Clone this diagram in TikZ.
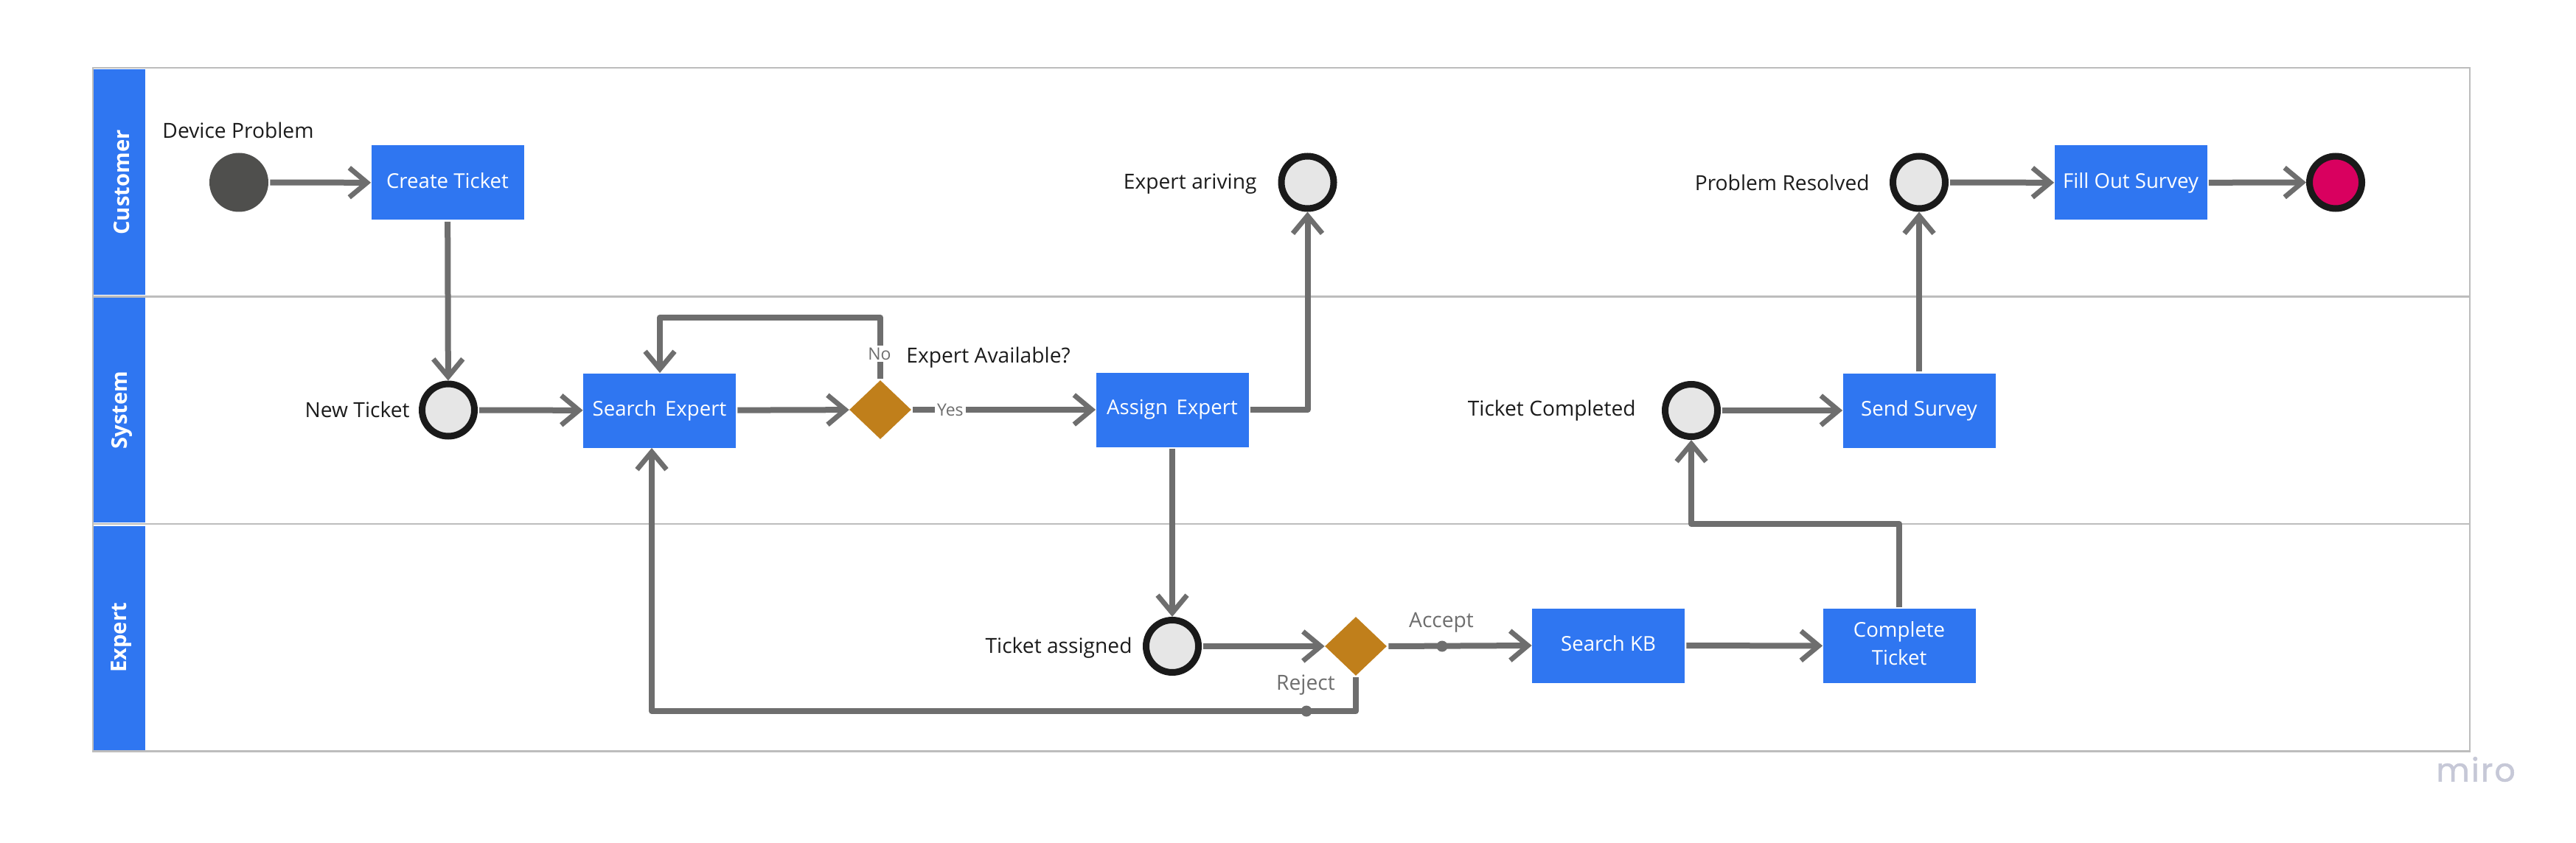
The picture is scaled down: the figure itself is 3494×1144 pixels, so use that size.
\documentclass[tikz,border=0pt]{standalone}
\usepackage{fontspec}
\setmainfont{Open Sans}
\newfontfamily\miroface[FakeBold=1.2,LetterSpace=5]{Poppins}
\usetikzlibrary{arrows.meta,shapes.geometric,calc}
\definecolor{laneblue}{HTML}{2F76F1}
\definecolor{golden}{HTML}{C07F1B}
\definecolor{flowgray}{HTML}{6E6E6E}
\definecolor{rulegray}{HTML}{BDBDBD}
\definecolor{ringdark}{HTML}{1A1A1A}
\definecolor{ringfill}{HTML}{E6E6E6}
\definecolor{startfill}{HTML}{4F4F4D}
\definecolor{endfill}{HTML}{D9005F}
\definecolor{mirogray}{HTML}{C6C8D7}
\definecolor{textdark}{HTML}{1C1C1C}
\newcommand{\mainsize}{\fontsize{14.1}{18.7}\selectfont}
\newcommand{\boxsize}{\fontsize{13.8}{18.7}\selectfont}
\tikzset{
  x=0.5pt,y=-0.5pt,
  lanehead/.style={rectangle,fill=laneblue,draw=none,inner sep=0pt,minimum width=35pt,text=white,font=\fontsize{14.6}{18}\selectfont\bfseries},
  taskbox/.style={rectangle,fill=laneblue,draw=none,inner sep=0pt,minimum width=103.5pt,minimum height=50.5pt,text=white,align=center,font=\boxsize},
  ringevent/.style={circle,draw=ringdark,fill=ringfill,line width=4.5pt,inner sep=0pt,minimum size=35.5pt},
  startevent/.style={circle,fill=startfill,draw=none,inner sep=0pt,minimum size=40pt},
  endevent/.style={ringevent,fill=endfill},
  gateway/.style={diamond,fill=golden,draw=none,inner sep=0pt,minimum width=42pt,minimum height=40pt,shape aspect=1.05},
  caption/.style={inner sep=0pt,text=textdark,font=\mainsize},
  flowlabel/.style={inner sep=0pt,text=flowgray,font=\mainsize},
  tinylabel/.style={fill=white,inner sep=1.5pt,text=flowgray,font=\fontsize{11.5}{13}\selectfont},
  flowdot/.style={circle,fill=flowgray,draw=none,inner sep=0pt,minimum size=7.5pt},
  flow/.style={draw=flowgray,line width=4pt,line join=round,shorten <=1pt,-{Straight Barb[length=12pt,width=20pt,line width=3.4pt]}},
  rule/.style={draw=rulegray,line width=1.1pt}
}
\begin{document}
\begin{tikzpicture}
\useasboundingbox (0,0) rectangle (3494,1144);
\fill[white] (0,0) rectangle (3494,1144);
% frame and lane rules
\draw[rule] (126,92) rectangle (3350,1019.5);
\draw[rule] (126,402.5) -- (3350,402.5);
\draw[rule] (126,711) -- (3350,711);
% lane heads
\node[lanehead,minimum height=153pt] (lcust) at (162,247.5) {\hspace*{3pt}\rotatebox{90}{Customer}};
\node[lanehead,minimum height=152pt] (lsys) at (162,556.5) {\hspace*{3pt}\rotatebox{90}{System}};
\node[lanehead,minimum height=152pt] (lexp) at (162,865.5) {\hspace*{3pt}\rotatebox{90}{Expert}};
% events
\node[startevent] (start) at (324,247.5) {};
\node[ringevent] (newt) at (608,556.5) {};
\node[ringevent] (arriv) at (1773.5,247.5) {};
\node[ringevent] (assigned) at (1590,877) {};
\node[ringevent] (completed) at (2294,557) {};
\node[ringevent] (resolved) at (2603,247.5) {};
\node[endevent] (finish) at (3168,247.5) {};
% tasks
\node[taskbox] (create) at (607,248) {\vphantom{Ag}Create Ticket};
\node[taskbox] (search) at (894.5,557) {\vphantom{Ag}Search\hspace{0.42em}Expert};
\node[taskbox] (assign) at (1590,556) {\vphantom{Ag}Assign\hspace{0.42em}Expert};
\node[taskbox] (kb) at (2181.5,876) {\vphantom{Ag}Search KB};
\node[taskbox] (complete) at (2576,876.5) {\vphantom{Ag}Complete\\\vphantom{Ag}Ticket};
\node[taskbox] (send) at (2603,557) {\vphantom{Ag}Send Survey};
\node[taskbox] (fill) at (2890,248) {\vphantom{Ag}Fill Out Survey};
% gateways
\node[gateway] (avail) at (1194,556) {};
\node[gateway] (accept) at (1839,877) {};
% captions
\node[caption] (c1) at (323,177) {Device Problem};
\node[caption,anchor=east] (c2) at (556,556) {New Ticket};
\node[caption,anchor=west] (c3) at (1229,485) {Expert Available?};
\node[caption,anchor=east] (c4) at (1705,250) {Expert ariving};
\node[caption,anchor=east] (c5) at (1536,879) {Ticket assigned};
\node[caption,anchor=east] (c6) at (2219,557) {Ticket Completed};
\node[caption,anchor=east] (c7) at (2536,248) {Problem Resolved};
% free corners
\coordinate (loopl) at (895,431);
\coordinate (rejl) at (884,965);
\coordinate (upa) at (2576,711);
\coordinate (upb) at (2294,711);
% connectors
\draw[flow] (start) -- (create);
\draw[flow] (create) -- (newt);
\draw[flow] (newt) -- (search);
\draw[flow] (search) -- (avail);
\draw[flow] (avail.east) -- (assign.west) node[tinylabel,pos=0.21] (yes) {Yes};
\draw[flow] (avail.north) |- (loopl) -- (loopl |- search.north);
\node[tinylabel] (no) at (1193,480) {No};
\draw[flow] (assign.east) -| (arriv.south);
\draw[flow] (assign.south) -- (assigned.north);
\draw[flow] (assigned) -- (accept);
\draw[flow] (accept.east) -- (kb.west);
\draw[flow] (accept.south) |- (rejl) -- (rejl |- search.south);
\draw[flow] (kb) -- (complete);
\draw[flow] (complete.north) -- (upa) -- (upb) -- (completed.south);
\draw[flow] (completed) -- (send);
\draw[flow] (send.north) -- (resolved.south);
\draw[flow] (resolved) -- (fill);
\draw[flow] (fill) -- (finish);
% edge labels and dots
\node[flowdot] (d1) at (1956,877) {};
\node[flowlabel] (acc) at (1955,845) {Accept};
\node[flowdot] (d2) at (1772,965) {};
\node[flowlabel] (rej) at (1771,930) {Reject};
% watermark
\node[inner sep=0pt,text=mirogray,font=\miroface\fontsize{22}{24}\selectfont] (miro) at (3358,1044) {miro};
\end{tikzpicture}
\end{document}
